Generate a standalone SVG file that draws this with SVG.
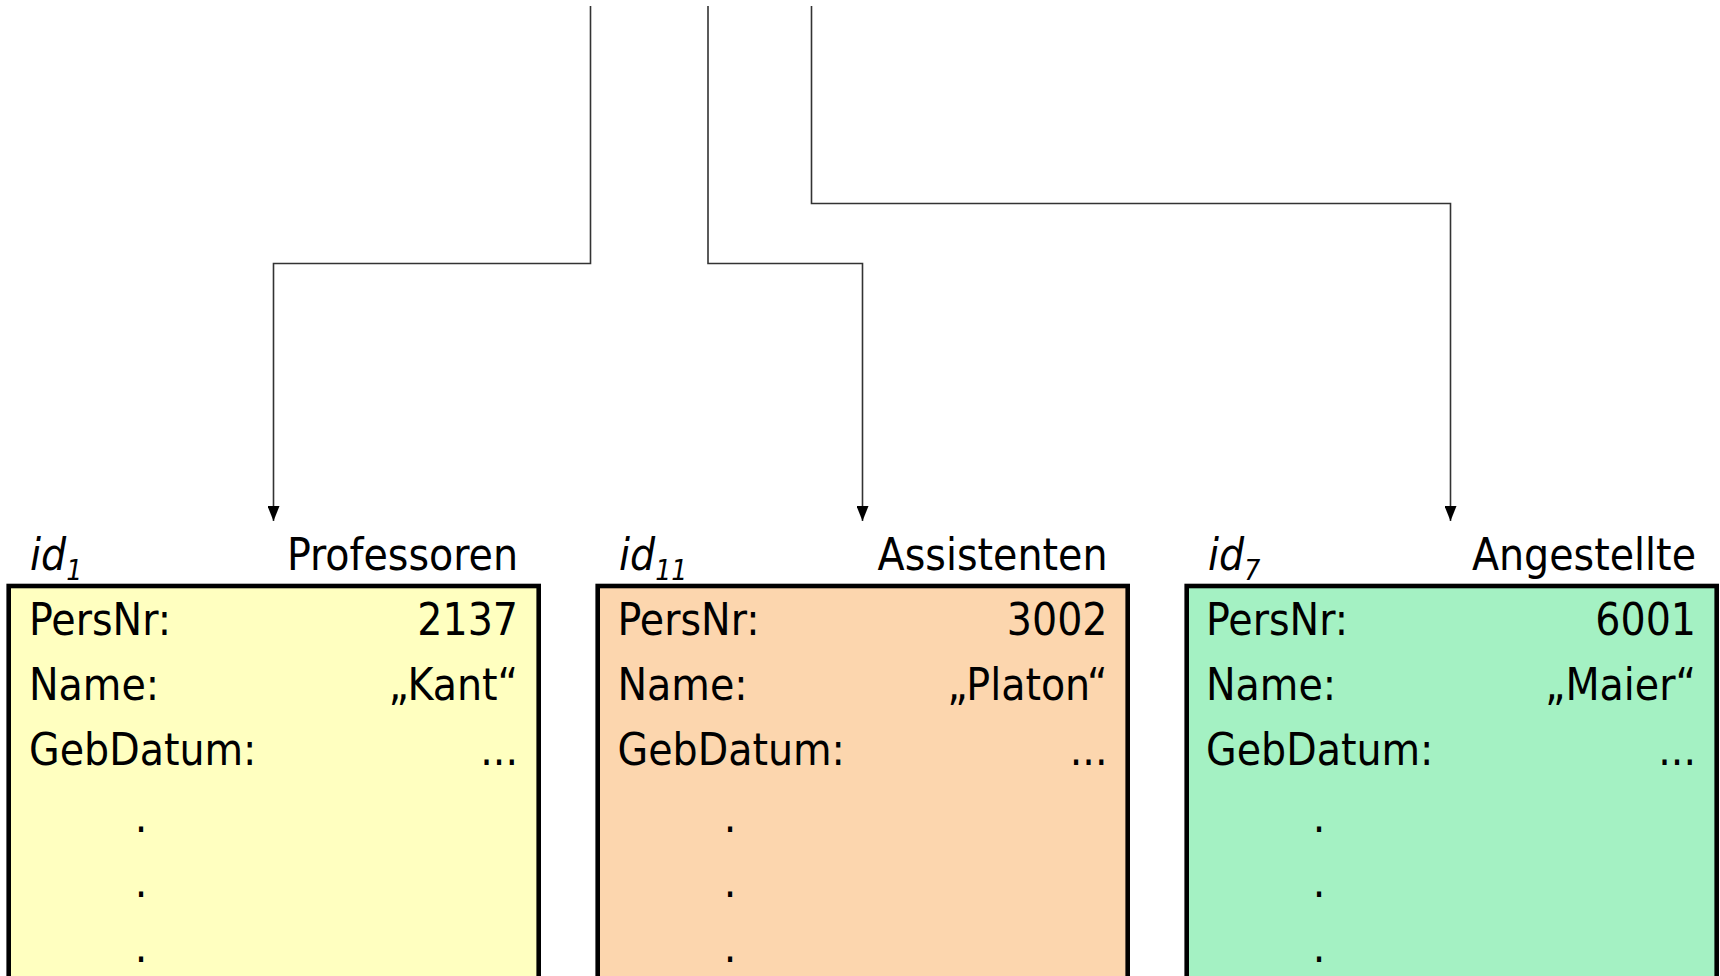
<svg xmlns="http://www.w3.org/2000/svg" width="1720" height="976" viewBox="0 0 1720 976">
<style>
.box{stroke:#000;stroke-width:4.6}
.t{font-family:"DejaVu Sans Condensed","Liberation Sans",sans-serif;font-size:44px;fill:#000}
.id{font-style:italic}
.r{text-anchor:end}
.c{text-anchor:middle}
.conn{fill:none;stroke:#333;stroke-width:1.6}
</style>
<defs>
<marker id="arr" viewBox="0 0 15 12" refX="15" refY="6" markerWidth="15" markerHeight="12" markerUnits="userSpaceOnUse" orient="auto">
<path d="M0,0 L15,6 L0,12 z" fill="#000"/>
</marker>
</defs>
<rect width="1720" height="976" fill="#fff"/>
<g id="connectors">
<path class="conn" d="M590.5,6 V263.5 H273.5 V521" marker-end="url(#arr)"/>
<path class="conn" d="M708,6 V263.5 H862.5 V521" marker-end="url(#arr)"/>
<path class="conn" d="M811.5,6 V203.5 H1450.5 V521" marker-end="url(#arr)"/>
</g>
<g id="professoren">
<rect class="box" x="8.7" y="586" width="530" height="420" fill="#FFFFC0"/>
<text class="t id" x="30" y="570">id<tspan font-size="28" dy="10">1</tspan></text>
<text class="t r" x="518" y="570">Professoren</text>
<text class="t" x="29" y="635">PersNr:</text>
<text class="t r" x="518" y="635">2137</text>
<text class="t" x="29" y="700">Name:</text>
<text class="t r" x="518" y="700">„Kant“</text>
<text class="t" x="29" y="765">GebDatum:</text>
<text class="t r" x="518" y="765">...</text>
<text class="t c" x="141" y="832">.</text>
<text class="t c" x="141" y="897">.</text>
<text class="t c" x="141" y="962">.</text>
</g>
<g id="assistenten">
<rect class="box" x="597.7" y="586" width="530" height="420" fill="#FCD6AE"/>
<text class="t id" x="619" y="570">id<tspan font-size="28" dy="10">11</tspan></text>
<text class="t r" x="1107.5" y="570">Assistenten</text>
<text class="t" x="617.5" y="635">PersNr:</text>
<text class="t r" x="1107.5" y="635">3002</text>
<text class="t" x="617.5" y="700">Name:</text>
<text class="t r" x="1107.5" y="700">„Platon“</text>
<text class="t" x="617.5" y="765">GebDatum:</text>
<text class="t r" x="1107.5" y="765">...</text>
<text class="t c" x="730" y="832">.</text>
<text class="t c" x="730" y="897">.</text>
<text class="t c" x="730" y="962">.</text>
</g>
<g id="angestellte">
<rect class="box" x="1186.7" y="586" width="530" height="420" fill="#A4F1C3"/>
<text class="t id" x="1208" y="570">id<tspan font-size="28" dy="10">7</tspan></text>
<text class="t r" x="1696" y="570">Angestellte</text>
<text class="t" x="1206" y="635">PersNr:</text>
<text class="t r" x="1696" y="635">6001</text>
<text class="t" x="1206" y="700">Name:</text>
<text class="t r" x="1696" y="700">„Maier“</text>
<text class="t" x="1206" y="765">GebDatum:</text>
<text class="t r" x="1696" y="765">...</text>
<text class="t c" x="1319" y="832">.</text>
<text class="t c" x="1319" y="897">.</text>
<text class="t c" x="1319" y="962">.</text>
</g>
</svg>
